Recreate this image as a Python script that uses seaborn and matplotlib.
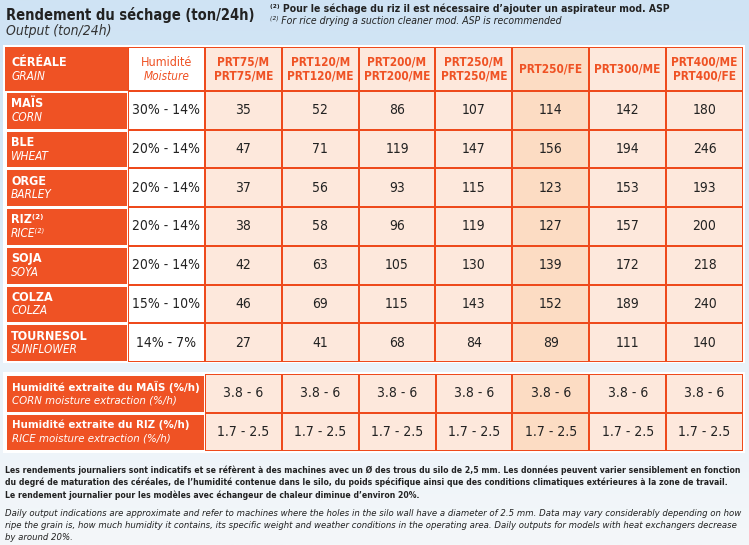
import numpy as np
import matplotlib
matplotlib.use("Agg")
import matplotlib.pyplot as plt
from matplotlib.colors import ListedColormap, LinearSegmentedColormap
import seaborn as sns

# ---- données du tableau ----
grains_fr = ["MAÏS", "BLE", "ORGE", "RIZ⁽²⁾", "SOJA", "COLZA", "TOURNESOL"]
grains_en = ["CORN", "WHEAT", "BARLEY", "RICE⁽²⁾", "SOYA", "COLZA", "SUNFLOWER"]
moisture = ["30% - 14%", "20% - 14%", "20% - 14%", "20% - 14%",
            "20% - 14%", "15% - 10%", "14% - 7%"]
models = ["PRT75/M\nPRT75/ME", "PRT120/M\nPRT120/ME", "PRT200/M\nPRT200/ME",
          "PRT250/M\nPRT250/ME", "PRT250/FE", "PRT300/ME", "PRT400/ME\nPRT400/FE"]
output = [
    [35, 52, 86, 107, 114, 142, 180],
    [47, 71, 119, 147, 156, 194, 246],
    [37, 56, 93, 115, 123, 153, 193],
    [38, 58, 96, 119, 127, 157, 200],
    [42, 63, 105, 130, 139, 172, 218],
    [46, 69, 115, 143, 152, 189, 240],
    [27, 41, 68, 84, 89, 111, 140],
]
extraction_fr = ["Humidité extraite du MAÏS (%/h)", "Humidité extraite du RIZ (%/h)"]
extraction_en = ["CORN moisture extraction (%/h)", "RICE moisture extraction (%/h)"]
extraction = [["3.8 - 6"] * 7, ["1.7 - 2.5"] * 7]
highlight = "PRT250/FE"

note_fr = [
    "Les rendements journaliers sont indicatifs et se réfèrent à des machines avec un Ø des trous du silo de 2,5 mm. "
    "Les données peuvent varier sensiblement en fonction",
    "du degré de maturation des céréales, de l’humidité contenue dans le silo, du poids spécifique ainsi que des "
    "conditions climatiques extérieures à la zone de travail.",
    "Le rendement journalier pour les modèles avec échangeur de chaleur diminue d’environ 20%.",
]
note_en = [
    "Daily output indications are approximate and refer to machines where the holes in the silo wall have a "
    "diameter of 2.5 mm. Data may vary considerably depending on how",
    "ripe the grain is, how much humidity it contains, its specific weight and weather conditions in the "
    "operating area. Daily outputs for models with heat exchangers decrease",
    "by around 20%.",
]

ORANGE = "#ef5224"
LINE = "#ee4a1c"
PEACH = "#fde8dc"
PEACH_HI = "#fcdcc3"
TXT = "#222222"

plt.rcParams["font.family"] = ["DejaVu Sans"]
plt.rcParams["font.stretch"] = "condensed"

W, H = 749, 545
fig = plt.figure(figsize=(W / 100, H / 100), dpi=100)
ax = fig.add_axes([0, 0, 1, 1])
ax.set_xlim(0, W)
ax.set_ylim(H, 0)
ax.axis("off")
renderer = fig.canvas.get_renderer()


def fit(t, maxw):
    # réduit la police jusqu'à ce que le texte tienne dans maxw pixels
    while t.get_window_extent(renderer).width > maxw and t.get_fontsize() > 4:
        t.set_fontsize(t.get_fontsize() - 0.1)
    return t


def fit_group(texts, maxw):
    size = min(fit(t, maxw).get_fontsize() for t in texts)
    for t in texts:
        t.set_fontsize(size)


# fond bleu ciel
sky = LinearSegmentedColormap.from_list("sky", ["#cfe3f4", "#d8e9f7", "#e9f2fa", "#f4f7f9"])
grad = np.linspace(0, 1, 256).reshape(-1, 1)
ax.imshow(grad, cmap=sky, extent=[0, W, H, 0], aspect="auto", zorder=0)


def px_axes(x0, y0, x1, y1):
    a = fig.add_axes([x0 / W, 1 - y1 / H, (x1 - x0) / W, (y1 - y0) / H])
    a.axis("off")
    return a


# titre
fit(ax.text(6, 15, "Rendement du séchage (ton/24h)", fontsize=11, fontweight="bold",
            color="#222", va="center"), 250)
ax.text(6, 31, "Output (ton/24h)", fontsize=10, style="italic", color="#333", va="center")
fit_group([ax.text(270, 9, "⁽²⁾ Pour le séchage du riz il est nécessaire d’ajouter un aspirateur mod. ASP",
                   fontsize=7.5, fontweight="bold", color="#222", va="center"),
           ax.text(270, 21, "⁽²⁾ For rice drying a suction cleaner mod. ASP is recommended",
                   fontsize=7.5, style="italic", color="#222", va="center")], 470)

# cadre blanc
ax.add_patch(plt.Rectangle((3, 45), 742, 318, fc="white", ec="none", zorder=1))
ax.add_patch(plt.Rectangle((3, 372), 742, 81, fc="white", ec="none", zorder=1))

hi = models.index(highlight) + 1
codes_row = [0] + [2 if j == hi else 1 for j in range(1, 8)]
cmap = ListedColormap(["white", PEACH, PEACH_HI])

# en-tête
ax_h0 = px_axes(5, 47, 128, 91)
sns.heatmap(np.zeros((1, 1)), ax=ax_h0, cmap=ListedColormap([ORANGE]), cbar=False,
            xticklabels=False, yticklabels=False)
ax_h0.text(0.05, 0.36, "CÉRÉALE", color="white", fontsize=9, fontweight="bold", va="center")
ax_h0.text(0.05, 0.68, "GRAIN", color="white", fontsize=8.5, style="italic", va="center")

ax_h = px_axes(128, 47, 743, 91)
hdr_annot = np.array([[""] + models])
sns.heatmap(np.array([codes_row]), ax=ax_h, cmap=cmap, vmin=0, vmax=2, cbar=False,
            annot=hdr_annot, fmt="", linewidths=1.2, linecolor=LINE,
            annot_kws=dict(color=ORANGE, fontsize=8.5, fontweight="bold", linespacing=1.15),
            xticklabels=False, yticklabels=False)
ax_h.text(0.5, 0.35, "Humidité", color=ORANGE, fontsize=9, ha="center", va="center")
ax_h.text(0.5, 0.68, "Moisture", color=ORANGE, fontsize=8.5, style="italic",
          ha="center", va="center")

# colonne céréales
ax_g = px_axes(5, 91, 128, 362)
sns.heatmap(np.zeros((len(grains_fr), 1)), ax=ax_g, cmap=ListedColormap([ORANGE]),
            cbar=False, linewidths=1.0, linecolor="white",
            xticklabels=False, yticklabels=False)
for i, (fr, en) in enumerate(zip(grains_fr, grains_en)):
    ax_g.text(0.05, i + 0.33, fr, color="white", fontsize=9, fontweight="bold", va="center")
    ax_g.text(0.05, i + 0.68, en, color="white", fontsize=8.5, style="italic", va="center")

# corps du tableau
ax_b = px_axes(128, 91, 743, 362)
body_codes = np.array([codes_row] * len(grains_fr))
body_annot = np.array([[m] + [str(v) for v in row] for m, row in zip(moisture, output)])
sns.heatmap(body_codes, ax=ax_b, cmap=cmap, vmin=0, vmax=2, cbar=False,
            annot=body_annot, fmt="", linewidths=1.2, linecolor=LINE,
            annot_kws=dict(color=TXT, fontsize=10),
            xticklabels=False, yticklabels=False)

# extraction d'humidité
ax_e0 = px_axes(5, 374, 205, 451)
sns.heatmap(np.zeros((2, 1)), ax=ax_e0, cmap=ListedColormap([ORANGE]), cbar=False,
            linewidths=1.0, linecolor="white", xticklabels=False, yticklabels=False)
labels = []
for i, (fr, en) in enumerate(zip(extraction_fr, extraction_en)):
    labels.append(ax_e0.text(0.035, i + 0.33, fr, color="white", fontsize=9,
                             fontweight="bold", va="center"))
    labels.append(ax_e0.text(0.035, i + 0.68, en, color="white", fontsize=9,
                             style="italic", va="center"))
fit_group(labels, 190)

ax_e = px_axes(205, 374, 743, 451)
sns.heatmap(np.array([codes_row[1:]] * 2), ax=ax_e, cmap=cmap, vmin=0, vmax=2, cbar=False,
            annot=np.array(extraction), fmt="", linewidths=1.2, linecolor=LINE,
            annot_kws=dict(color=TXT, fontsize=10),
            xticklabels=False, yticklabels=False)

# notes en bas
fit_group([ax.text(5, 470 + 12.7 * k, line, fontsize=8, fontweight="bold", color="#222",
                   va="center") for k, line in enumerate(note_fr)], 740)
fit_group([ax.text(5, 513 + 12.5 * k, line, fontsize=8, style="italic", color="#222",
                   va="center") for k, line in enumerate(note_en)], 740)

fig.savefig("out.png", dpi=100)
